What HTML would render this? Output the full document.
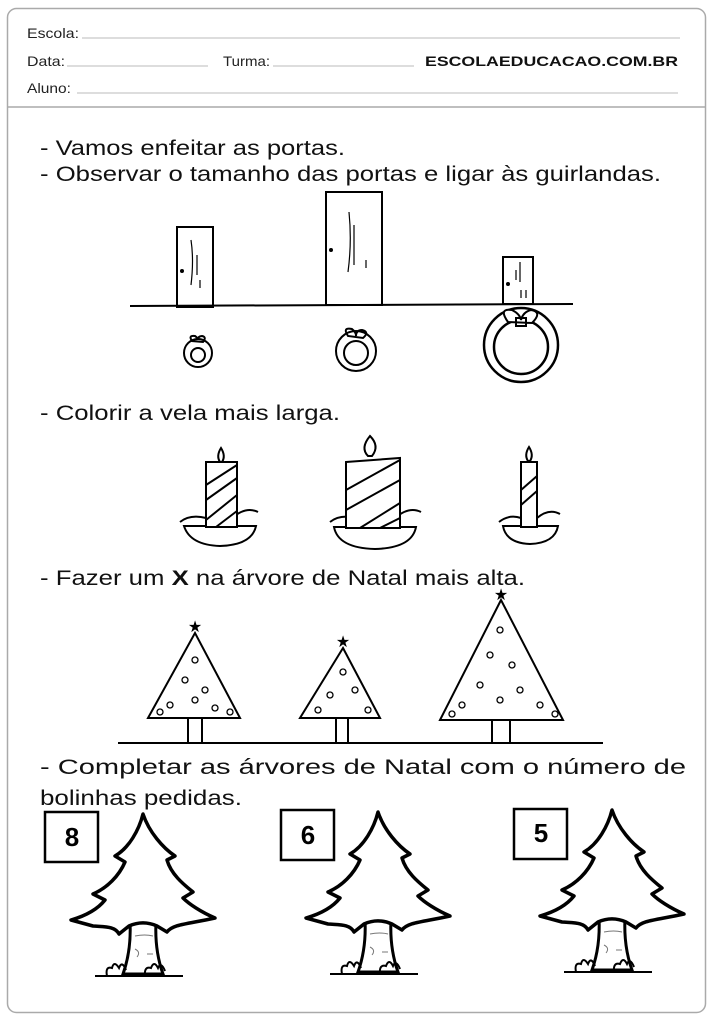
<!DOCTYPE html>
<html><head><meta charset="utf-8"><style>
body{margin:0;background:#fff}
svg{display:block}
text{font-family:"Liberation Sans",Arial,sans-serif}
</style></head><body>
<svg width="714" height="1024" viewBox="0 0 714 1024" xmlns="http://www.w3.org/2000/svg">
<defs>
<g id="bigtree">
 <path d="M-13,108 C-12,128 -15,146 -20,160 L20,160 C15,146 12,128 13,108 Z" fill="#fff" stroke="#000" stroke-width="3"/>
 <path d="M-8,122 q10,-2 18,0 M-8,135 q6,3 2,8 M4,140 h6" stroke="#777" fill="none" stroke-width="1"/>
 <path d="M0,0 C-4,16 -14,34 -28,42 L-18,48 C-24,62 -36,74 -50,80 L-38,86 C-46,96 -58,102 -72,106 L-50,112 C-38,113 -28,112 -24,120 L-14,112 C-5,108 5,108 14,112 L24,118 C30,110 45,110 72,104 C58,98 46,90 40,84 L50,78 C40,70 28,60 24,46 L32,42 C20,34 6,18 0,0 Z" fill="#fff" stroke="#000" stroke-width="3.5" stroke-linejoin="round"/>
 <path d="M-48,162 L40,162 M-36,162 q-2,-10 5,-8 q2,-8 7,0 q3,-8 7,2 M2,162 q-1,-10 6,-8 q3,-8 7,0 q3,-7 7,3" stroke="#000" fill="none" stroke-width="2"/>
</g>
</defs>
<rect x="7.5" y="8.5" width="698" height="1004" rx="9" fill="#fff" stroke="#aaa" stroke-width="1.5"/>
<line x1="8" y1="107" x2="705" y2="107" stroke="#aaa" stroke-width="1.5"/>
<g font-size="14" fill="#222">
<text x="27" y="38" textLength="52" lengthAdjust="spacingAndGlyphs">Escola:</text>
<text x="27" y="66" textLength="38" lengthAdjust="spacingAndGlyphs">Data:</text>
<text x="223" y="66" textLength="47" lengthAdjust="spacingAndGlyphs">Turma:</text>
<text x="27" y="93" textLength="44" lengthAdjust="spacingAndGlyphs">Aluno:</text>
</g>
<g stroke="#bbb" stroke-width="1">
<line x1="82" y1="38" x2="680" y2="38"/><line x1="67" y1="66" x2="208" y2="66"/>
<line x1="273" y1="66" x2="414" y2="66"/><line x1="77" y1="93" x2="678" y2="93"/>
</g>
<text x="425" y="66" font-size="14" font-weight="bold" fill="#111" textLength="253" lengthAdjust="spacingAndGlyphs" font-family="Liberation Mono">ESCOLAEDUCACAO.COM.BR</text>

<g font-size="21" fill="#111">
<text x="40" y="155" textLength="305" lengthAdjust="spacingAndGlyphs">- Vamos enfeitar as portas.</text>
<text x="40" y="181" textLength="621" lengthAdjust="spacingAndGlyphs">- Observar o tamanho das portas e ligar às guirlandas.</text>
<text x="40" y="420" textLength="300" lengthAdjust="spacingAndGlyphs">- Colorir a vela mais larga.</text>
<text x="40" y="585" textLength="485" lengthAdjust="spacingAndGlyphs">- Fazer um <tspan font-weight="bold">X</tspan> na árvore de Natal mais alta.</text>
<text x="40" y="774" textLength="646" lengthAdjust="spacingAndGlyphs">- Completar as árvores de Natal com o número de</text>
<text x="40" y="805" textLength="202" lengthAdjust="spacingAndGlyphs">bolinhas pedidas.</text>
</g>

<!-- doors -->
<g stroke="#000" stroke-width="2" fill="none">
<line x1="130" y1="306" x2="573" y2="304"/>
<rect x="177" y="227" width="36" height="80"/>
<rect x="326" y="192" width="56" height="113"/>
<rect x="503" y="257" width="30" height="47"/>
<path d="M191,240 q3,20 0,45 M197,255 v20 M200,280 v8 M349,212 q3,30 -1,60 M354,225 v40 M366,260 v8 M520,262 v20 M516,270 v10 M521,290 v8 M526,290 v8" stroke-width="1.2"/>
</g>
<circle cx="182" cy="271" r="2" /><circle cx="331" cy="250" r="2"/><circle cx="508" cy="284" r="2"/>
<!-- wreaths -->
<g stroke="#000" fill="none" stroke-width="2">
<circle cx="198" cy="353" r="14"/><circle cx="198" cy="355" r="7"/>
<path d="M192,341 q-4,-6 3,-5 q3,2 3,4 q0,-4 4,-4 q5,1 1,6 z"/>
<circle cx="356" cy="351" r="20"/><circle cx="356" cy="353" r="12"/>
<path d="M348,336 q-6,-9 4,-7 q4,3 4,7 q0,-6 6,-6 q8,2 1,8 z"/>
<circle cx="521" cy="345" r="37" stroke-width="2.5"/><circle cx="521" cy="347" r="27" stroke-width="2.5"/>
<path d="M508,322 q-10,-14 4,-12 q8,4 9,10 q2,-8 10,-10 q12,2 1,13 z M516,318 h10 v8 h-10 z" fill="#fff"/>
</g>
<!-- candles -->
<g stroke="#000" stroke-width="2" fill="#fff">
<path d="M180,522 q10,-8 26,-4 M232,518 q14,-12 26,-6"/>
<path d="M184,526 L256,526 Q252,545 220,546 Q190,545 184,526 Z"/>
<rect x="206" y="462" width="31" height="65"/>
<path d="M206,485 l31,-20 M206,500 l31,-22 M206,520 l31,-25 M216,527 l21,-16" fill="none"/>
<path d="M220,462 q-4,-6 1,-14 q5,8 1,14 z"/>
<path d="M330,522 q10,-8 26,-4 M395,518 q14,-12 26,-6" fill="none"/>
<path d="M334,527 L416,527 Q412,548 375,549 Q338,548 334,527 Z"/>
<path d="M346,462 L400,458 L400,528 L346,528 Z"/>
<path d="M346,490 l54,-30 M346,510 l54,-30 M360,528 l40,-25 M380,528 l20,-10" fill="none"/>
<path d="M368,456 q-8,-8 2,-20 q10,10 2,20 z"/>
<path d="M499,522 q10,-8 22,-4 M537,518 q12,-10 23,-4" fill="none"/>
<path d="M503,526 L558,526 Q555,543 530,544 Q506,543 503,526 Z"/>
<rect x="521" y="462" width="16" height="65"/>
<path d="M521,490 l16,-14 M521,505 l16,-14" fill="none"/>
<path d="M528,461 q-4,-6 1,-14 q5,8 1,14 z"/>
</g>
<!-- decorated trees -->
<g stroke="#000" stroke-width="2" fill="#fff">
<line x1="118" y1="743" x2="603" y2="743"/>
<rect x="188" y="716" width="14" height="27"/><rect x="336" y="716" width="12" height="27"/><rect x="492" y="716" width="18" height="27"/>
<path d="M195,633 L240,718 L148,718 Z"/>
<path d="M343,648 L380,718 L300,718 Z"/>
<path d="M501,600 L563,720 L440,720 Z"/>
</g>
<g fill="#000" font-size="16" text-anchor="middle">
<text x="195" y="632">★</text><text x="343" y="647">★</text><text x="501" y="600">★</text>
</g>
<g stroke="#000" fill="none" stroke-width="1.3">
<circle cx="195" cy="660" r="3"/><circle cx="185" cy="680" r="3"/><circle cx="205" cy="690" r="3"/><circle cx="170" cy="705" r="3"/><circle cx="215" cy="708" r="3"/><circle cx="195" cy="700" r="3"/><circle cx="160" cy="712" r="3"/><circle cx="230" cy="712" r="3"/>
<circle cx="343" cy="672" r="3"/><circle cx="330" cy="695" r="3"/><circle cx="355" cy="690" r="3"/><circle cx="318" cy="710" r="3"/><circle cx="368" cy="710" r="3"/>
<circle cx="500" cy="630" r="3"/><circle cx="490" cy="655" r="3"/><circle cx="512" cy="665" r="3"/><circle cx="480" cy="685" r="3"/><circle cx="520" cy="690" r="3"/><circle cx="462" cy="705" r="3"/><circle cx="500" cy="700" r="3"/><circle cx="540" cy="705" r="3"/><circle cx="452" cy="714" r="3"/><circle cx="555" cy="714" r="3"/>
</g>
<!-- boxes -->
<g stroke="#000" stroke-width="2.5" fill="#fff">
<rect x="45" y="812" width="53" height="50"/><rect x="281" y="810" width="53" height="50"/><rect x="514" y="809" width="53" height="50"/>
</g>
<g font-size="26" font-weight="bold" text-anchor="middle" fill="#000">
<text x="72" y="846">8</text><text x="308" y="844">6</text><text x="541" y="842">5</text>
</g>
<use href="#bigtree" x="143" y="814"/>
<use href="#bigtree" x="378" y="812"/>
<use href="#bigtree" x="612" y="810"/>
</svg>
</body></html>
